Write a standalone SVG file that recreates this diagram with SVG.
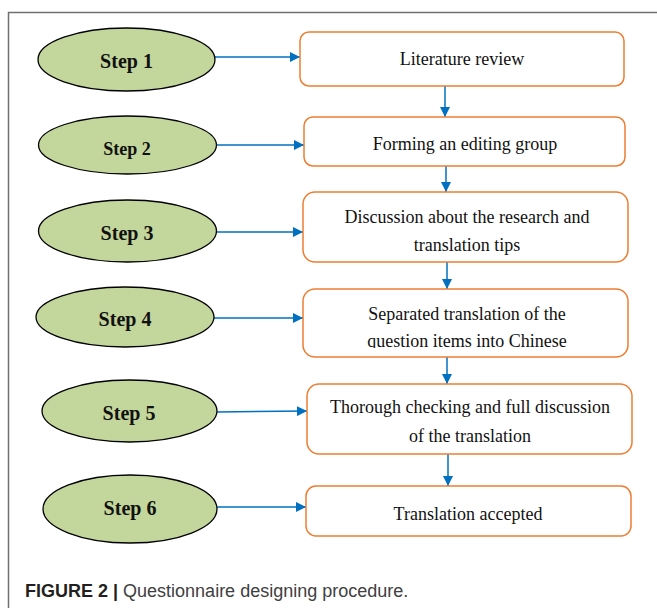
<svg xmlns="http://www.w3.org/2000/svg" width="657" height="608" viewBox="0 0 657 608">
<style>
.ell{fill:#c3d69b;stroke:#000;stroke-width:1.3}
.box{fill:#fff;stroke:#ed7d31;stroke-width:1.5}
.step{font-family:"Liberation Serif",serif;font-weight:bold;font-size:20px;fill:#111;text-anchor:middle}
.bt{font-family:"Liberation Serif",serif;font-size:18px;fill:#111;text-anchor:middle}
.con{stroke:#0070c0;stroke-width:1.5;fill:none;marker-end:url(#ah)}
.cap{font-family:"Liberation Sans",Arial,sans-serif;font-size:18px;fill:#404040}
</style>
<defs>
<marker id="ah" viewBox="0 0 10 10" refX="10" refY="5" markerWidth="10" markerHeight="10" markerUnits="userSpaceOnUse" orient="auto">
<path d="M0,0 L10,5 L0,10 z" fill="#0070c0"/>
</marker>
<clipPath id="clip4"><rect x="303" y="289" width="325" height="59"/></clipPath>
</defs>
<rect width="657" height="608" fill="#fff"/>
<path d="M8.5,608 L8.5,12.5 L657,12.5" fill="none" stroke="#707070" stroke-width="1.5"/>
<g id="connectors">
<line class="con" x1="215" y1="57" x2="300" y2="57"/>
<line class="con" x1="217" y1="145" x2="304" y2="145"/>
<line class="con" x1="217" y1="232" x2="303" y2="232"/>
<line class="con" x1="214" y1="318" x2="303" y2="318"/>
<line class="con" x1="217" y1="412" x2="307" y2="411"/>
<line class="con" x1="217" y1="507" x2="306" y2="507"/>
<line class="con" x1="445" y1="86" x2="445" y2="117"/>
<line class="con" x1="446" y1="166" x2="446" y2="192"/>
<line class="con" x1="447" y1="262" x2="447" y2="289"/>
<line class="con" x1="447" y1="357" x2="447" y2="384"/>
<line class="con" x1="448" y1="454" x2="448" y2="486"/>
</g>
<g id="step1"><ellipse class="ell" cx="126.5" cy="59.5" rx="88.5" ry="31.5"/><text class="step" x="126.5" y="68">Step 1</text></g>
<g id="step2"><ellipse class="ell" cx="127.5" cy="145" rx="89" ry="29"/><text class="step" x="127" y="155" style="font-size:18px">Step 2</text></g>
<g id="step3"><ellipse class="ell" cx="127.5" cy="231" rx="89" ry="31"/><text class="step" x="127" y="240">Step 3</text></g>
<g id="step4"><ellipse class="ell" cx="125" cy="317" rx="89" ry="30"/><text class="step" x="125" y="326">Step 4</text></g>
<g id="step5"><ellipse class="ell" cx="129.5" cy="411" rx="87.5" ry="31"/><text class="step" x="129" y="420">Step 5</text></g>
<g id="step6"><ellipse class="ell" cx="130" cy="509" rx="87" ry="34"/><text class="step" x="130" y="515">Step 6</text></g>
<g id="box1"><rect class="box" x="300" y="32" width="324" height="54" rx="9"/><text class="bt" x="462" y="65">Literature review</text></g>
<g id="box2"><rect class="box" x="304" y="117" width="321" height="49" rx="9"/><text class="bt" x="465" y="150">Forming an editing group</text></g>
<g id="box3"><rect class="box" x="303" y="192" width="325" height="70" rx="12"/><text class="bt" x="467" y="223">Discussion about the research and</text><text class="bt" x="467" y="251">translation tips</text></g>
<g id="box4"><rect class="box" x="303" y="289" width="325" height="68" rx="12"/><text class="bt" x="467" y="320">Separated translation of the</text><text class="bt" x="467" y="347" clip-path="url(#clip4)">question items into Chinese</text></g>
<g id="box5"><rect class="box" x="307" y="384" width="325" height="70" rx="12"/><text class="bt" x="470" y="413">Thorough checking and full discussion</text><text class="bt" x="470" y="442">of the translation</text></g>
<g id="box6"><rect class="box" x="306" y="486" width="325" height="50" rx="10"/><text class="bt" x="468" y="520">Translation accepted</text></g>
<text class="cap" x="25" y="597"><tspan font-weight="bold" fill="#231f20">FIGURE 2 |</tspan> Questionnaire designing procedure.</text>
</svg>
